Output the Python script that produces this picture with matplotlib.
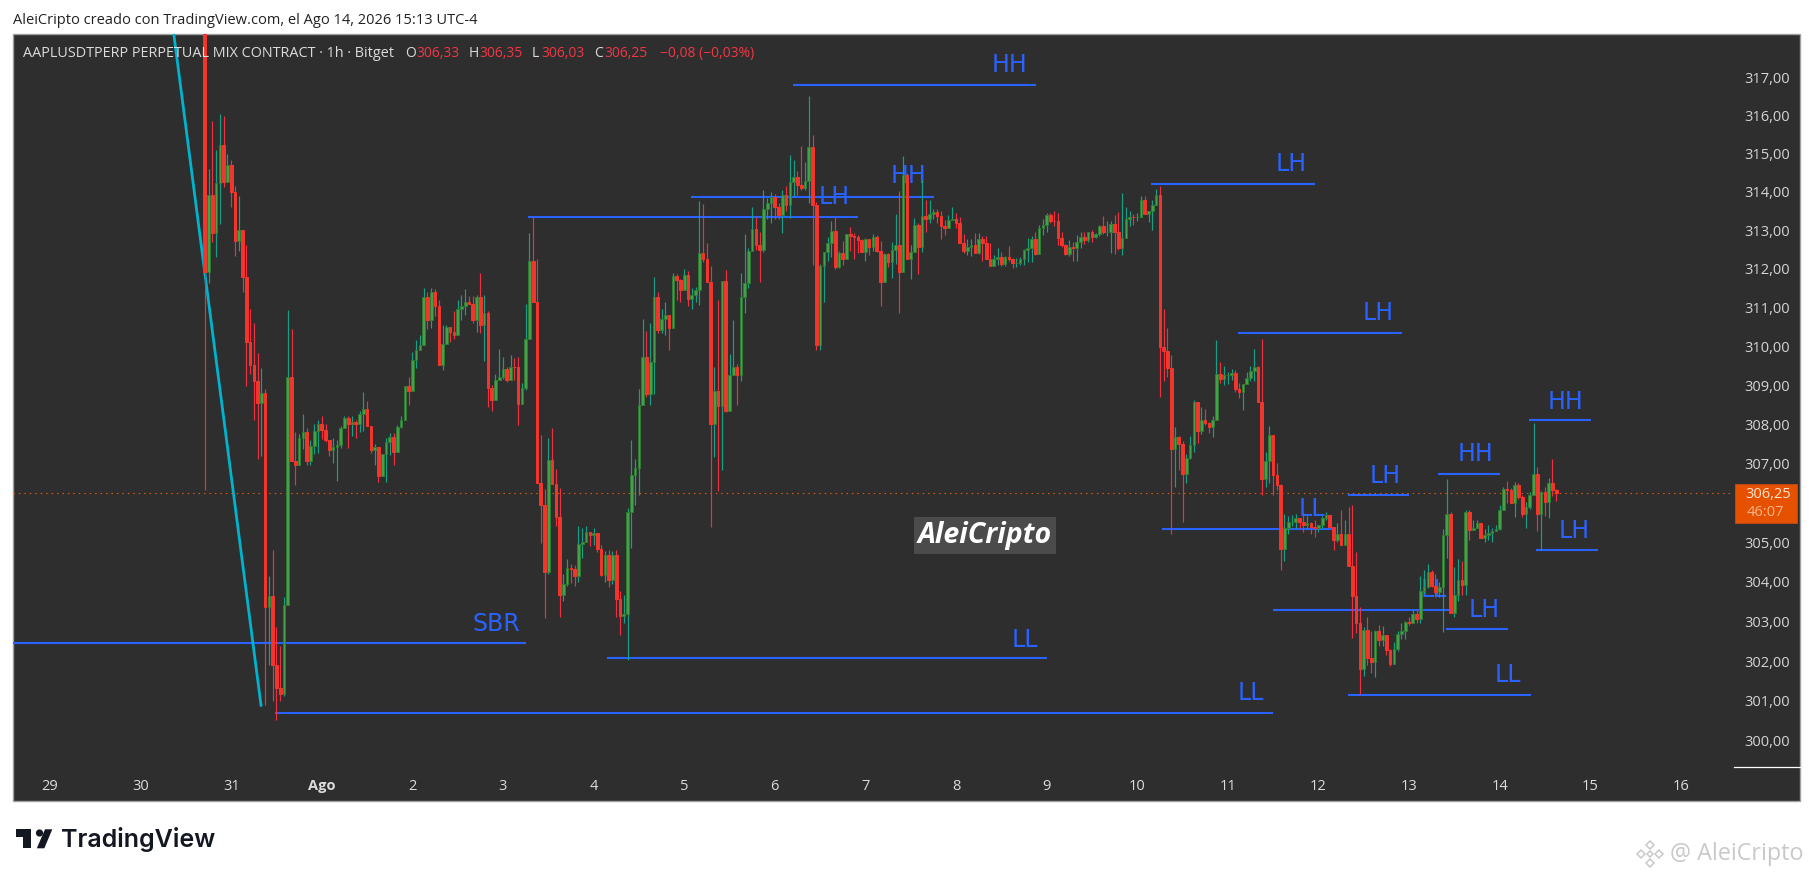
"""AAPLUSDT perpetual 1h candles with hand-drawn structure levels (TradingView look)."""

import matplotlib
matplotlib.use("Agg")
import matplotlib.pyplot as plt
import numpy as np
from matplotlib.patches import Circle, Polygon, Rectangle
from matplotlib.ticker import NullFormatter

W, H = 1814, 877
plt.rcParams["font.family"] = ["Open Sans", "DejaVu Sans"]

# x is hours since Jul 29 00:00, first candle is hour 41
FIRST_HOUR = 41
FIRST_OPEN = 322.0
closes = [
    311.93, 313.93, 312.93, 314.23, 315.23, 314.27, 314.7, 314.0, 312.72,
    313.0, 311.78, 310.12, 309.53, 309.12, 308.55, 308.8, 303.35, 303.63, 301.9,
    301.33, 301.18, 303.42, 309.2, 307.07, 306.95, 307.65, 307.8, 307.07, 307.45,
    307.83, 308.0, 307.85, 307.6, 307.35, 307.43, 307.47, 307.9, 308.15, 308.0,
    308.05, 308.0, 308.25, 308.38, 307.95, 307.33, 307.42, 306.68, 307.25, 307.55,
    307.67, 307.28, 307.93, 308.12, 308.97, 308.85, 309.65, 309.9, 310.03, 311.27,
    310.67, 311.4, 311.05, 309.53, 310.05, 310.5, 310.38, 310.28, 310.95, 311.05,
    311.15, 311.1, 310.67, 311.28, 310.55, 310.86, 308.92, 308.62, 309.14, 309.2,
    309.42, 309.14, 309.48, 309.46, 308.52, 308.93, 310.2, 312.2, 311.15, 306.5,
    305.93, 304.23, 307.08, 306.48, 305.63, 303.67, 303.95, 304.35, 304.32, 304.15,
    304.95, 305.0, 305.25, 305.17, 305.23, 304.83, 304.17, 304.66, 304.05, 304.66,
    303.55, 303.13, 303.18, 305.75, 306.7, 306.88, 308.5, 309.72, 308.78, 309.6,
    311.27, 310.43, 310.7, 310.8, 310.48, 311.82, 311.7, 311.45, 311.83, 311.23,
    311.33, 311.45, 312.4, 312.25, 311.65, 308.01, 308.85, 308.47, 311.68, 308.33,
    309.25, 309.48, 309.25, 311.27, 311.63, 312.47, 313.03, 312.63, 312.5, 313.55,
    313.7, 313.87, 313.6, 313.4, 313.93, 313.66, 314.27, 314.38, 314.17, 314.1,
    314.28, 315.17, 313.65, 310.03, 312.08, 312.45, 312.66, 312.98, 312.06, 312.4,
    312.25, 312.9, 312.85, 312.84, 312.75, 312.43, 312.77, 312.56, 312.83, 312.47,
    311.67, 312.39, 312.18, 312.5, 312.63, 311.93, 314.43, 312.25, 312.43, 313.13,
    312.56, 313.38, 313.3, 313.43, 313.47, 313.38, 313.12, 313.07, 313.27, 313.3,
    313.2, 312.68, 312.47, 312.58, 312.63, 312.42, 312.77, 312.66, 312.26, 312.07,
    312.25, 312.31, 312.13, 312.31, 312.25, 312.16, 312.16, 312.25, 312.5, 312.55,
    312.78, 312.38, 313.07, 313.15, 313.4, 313.25, 313.24, 312.81, 312.63, 312.38,
    312.58, 312.53, 312.7, 312.83, 312.76, 312.95, 312.84, 312.9, 313.12, 312.95,
    312.95, 313.16, 312.97, 312.55, 312.8, 313.3, 313.35, 313.34, 313.35, 313.78,
    313.42, 313.5, 313.66, 313.92, 309.97, 309.88, 309.43, 307.37, 307.68, 307.5,
    306.72, 307.14, 307.46, 308.57, 307.83, 308.12, 308.03, 307.92, 308.1, 309.29,
    309.17, 309.25, 309.27, 309.32, 308.9, 308.82, 309.02, 309.19, 309.36, 309.47,
    308.58, 306.6, 307.05, 307.72, 306.7, 306.46, 304.83, 305.36, 305.5, 305.52,
    305.6, 305.5, 305.44, 305.47, 305.38, 305.36, 305.42, 305.6, 305.68, 305.38,
    305.06, 305.2, 304.93, 305.2, 304.4, 303.63, 302.95, 301.8, 302.78, 302.07,
    301.97, 302.75, 302.53, 302.65, 302.27, 301.92, 302.3, 302.68, 302.76, 302.97,
    302.95, 303.17, 303.06, 303.75, 303.87, 304.25, 303.9, 303.73, 303.87, 305.18,
    305.7, 303.2, 303.67, 304.05, 303.92, 305.75, 305.3, 305.36, 305.48, 305.1,
    305.17, 305.22, 305.28, 305.32, 305.82, 306.35, 306.33, 306.0, 306.45, 306.15,
    305.7, 305.9, 306.2, 306.73, 305.72, 306.27, 306.02, 306.5, 306.33, 306.25,
]
highs = [
    322.0, 314.6, 315.85, 315.1, 316.05, 316.0, 315.0, 314.83, 314.15,
    313.9, 313.0, 312.62, 310.96, 310.6, 309.83, 309.43, 308.9, 304.13, 304.8,
    302.85, 302.38, 303.6, 310.93, 310.45, 307.8, 307.75, 308.27, 307.9, 307.6,
    308.0, 308.1, 308.2, 308.0, 307.6, 307.65, 307.6, 307.95, 308.2, 308.22,
    308.2, 308.1, 308.35, 308.83, 308.6, 307.95, 307.5, 307.42, 307.25, 307.65,
    307.78, 307.78, 307.98, 308.22, 308.97, 309.2, 309.85, 310.17, 310.3, 311.5,
    311.4, 311.5, 311.47, 311.2, 310.55, 310.55, 310.5, 310.9, 311.2, 311.33,
    311.47, 311.3, 311.3, 311.33, 311.9, 311.33, 310.9, 309.0, 309.3, 309.93,
    309.73, 309.47, 309.78, 309.7, 309.73, 309.05, 311.1, 312.93, 313.35, 312.25,
    307.73, 306.35, 307.65, 307.9, 306.85, 306.37, 304.18, 304.58, 304.45, 304.43,
    305.4, 305.35, 305.4, 305.25, 305.35, 305.23, 304.93, 304.77, 304.8, 304.77,
    304.8, 303.75, 303.65, 305.87, 307.6, 307.1, 308.9, 310.7, 310.4, 310.6,
    311.8, 311.4, 310.95, 311.15, 310.8, 311.9, 311.88, 311.75, 312.0, 311.95,
    311.5, 311.53, 313.77, 313.68, 312.67, 312.08, 309.47, 311.2, 311.68, 311.97,
    309.8, 310.68, 309.55, 311.9, 312.9, 312.55, 313.6, 313.35, 312.95, 314.05,
    313.85, 314.0, 313.95, 313.7, 314.05, 314.15, 314.97, 314.83, 314.55, 315.2,
    314.78, 316.52, 315.5, 313.75, 312.12, 312.45, 312.84, 313.25, 313.35, 312.47,
    312.72, 312.9, 313.08, 312.93, 312.87, 312.77, 312.8, 312.77, 312.9, 312.88,
    312.72, 312.4, 312.4, 312.7, 313.43, 314.03, 314.95, 314.5, 312.63, 313.32,
    313.2, 314.3, 313.8, 313.78, 313.55, 313.55, 313.5, 313.28, 313.4, 313.6,
    313.45, 313.35, 312.9, 312.78, 312.78, 312.93, 312.93, 312.85, 312.85, 312.66,
    312.35, 312.55, 312.43, 312.33, 312.6, 312.28, 312.28, 312.3, 312.52, 312.8,
    312.85, 312.97, 313.15, 313.3, 313.45, 313.45, 313.5, 313.46, 312.97, 312.65,
    312.75, 312.7, 312.88, 312.97, 312.97, 312.97, 313.0, 312.93, 313.15, 313.37,
    313.25, 313.25, 313.4, 313.47, 313.97, 313.6, 313.5, 313.42, 313.45, 313.9,
    313.9, 313.5, 313.8, 314.07, 314.15, 310.96, 310.47, 309.77, 307.93, 307.7,
    307.57, 307.25, 307.7, 308.62, 308.57, 308.43, 308.38, 308.05, 308.2, 310.15,
    309.6, 309.5, 309.35, 309.42, 309.38, 309.05, 309.02, 309.33, 309.5, 309.93,
    309.5, 310.2, 307.3, 307.95, 307.72, 307.0, 306.47, 305.72, 305.65, 305.68,
    305.7, 305.6, 305.73, 305.65, 305.5, 305.55, 305.43, 305.65, 305.75, 305.68,
    305.1, 305.48, 305.8, 305.55, 305.9, 305.95, 304.75, 303.35, 302.85, 303.1,
    302.75, 302.78, 302.9, 302.88, 302.65, 302.3, 302.47, 302.75, 302.96, 303.0,
    303.1, 303.3, 303.3, 304.15, 304.3, 304.45, 304.3, 304.2, 304.0, 305.32,
    306.6, 305.75, 304.37, 304.57, 304.52, 305.8, 305.8, 305.55, 305.55, 305.48,
    305.32, 305.42, 305.35, 305.42, 305.95, 306.4, 306.55, 306.38, 306.52, 306.5,
    306.2, 306.02, 306.28, 308.03, 306.9, 306.3, 306.4, 306.62, 307.1, 306.35,
]
lows = [
    306.33, 311.63, 312.7, 312.3, 313.17, 314.13, 314.27, 313.6, 312.33,
    312.47, 311.4, 308.97, 309.3, 308.1, 307.1, 307.2, 300.9, 301.9, 301.0,
    300.53, 301.0, 301.13, 303.42, 307.07, 306.45, 306.95, 307.37, 306.95, 306.95,
    307.25, 307.27, 307.63, 307.55, 307.2, 307.0, 306.55, 307.4, 307.9, 307.4,
    307.7, 307.65, 307.8, 307.83, 307.95, 307.27, 306.95, 306.52, 306.68, 306.52,
    307.22, 306.97, 307.28, 307.9, 308.1, 308.5, 308.85, 309.45, 309.9, 310.03,
    310.45, 310.48, 310.77, 309.53, 309.4, 310.05, 310.12, 310.2, 310.28, 310.67,
    310.8, 311.1, 310.6, 310.37, 310.33, 309.62, 308.45, 308.33, 308.62, 309.14,
    309.15, 309.07, 309.14, 309.14, 307.98, 308.52, 308.88, 310.2, 311.15, 306.5,
    304.98, 303.08, 304.2, 306.48, 305.4, 303.1, 303.5, 303.9, 303.97, 303.9,
    304.0, 304.6, 305.0, 304.9, 304.93, 304.75, 304.15, 304.0, 303.85, 303.93,
    303.1, 302.65, 302.95, 302.03, 304.85, 305.93, 306.2, 308.5, 308.7, 308.5,
    308.77, 310.35, 310.35, 310.3, 309.9, 310.48, 311.2, 311.13, 311.45, 311.05,
    310.97, 311.13, 311.07, 312.17, 311.65, 305.37, 307.15, 306.3, 306.82, 308.3,
    308.33, 309.25, 308.5, 309.1, 310.87, 311.5, 312.47, 312.5, 311.65, 312.45,
    313.3, 313.2, 313.3, 313.3, 312.93, 313.5, 313.33, 313.9, 313.93, 314.05,
    314.05, 313.72, 312.1, 309.9, 309.9, 311.13, 312.2, 312.3, 312.0, 312.03,
    312.1, 312.25, 312.47, 312.25, 312.4, 312.43, 312.2, 312.35, 312.47, 312.43,
    311.03, 311.65, 312.05, 311.77, 312.13, 310.85, 311.93, 312.25, 311.75, 312.43,
    311.88, 312.43, 312.97, 313.2, 313.3, 313.2, 312.78, 312.88, 313.07, 313.28,
    313.05, 312.68, 312.4, 312.35, 312.33, 312.42, 312.38, 312.2, 312.26, 312.07,
    312.07, 312.1, 312.07, 312.07, 312.2, 312.03, 312.06, 312.1, 312.1, 312.17,
    312.17, 312.35, 312.38, 312.88, 312.97, 313.18, 313.12, 312.63, 312.58, 312.35,
    312.33, 312.2, 312.2, 312.55, 312.65, 312.7, 312.7, 312.8, 312.85, 312.9,
    312.85, 312.42, 312.38, 312.48, 312.35, 312.8, 313.12, 313.13, 313.25, 313.35,
    313.42, 313.22, 313.0, 313.66, 308.7, 309.12, 309.2, 305.2, 306.4, 306.82,
    305.5, 306.5, 307.1, 307.3, 307.52, 307.75, 307.98, 307.78, 307.68, 308.1,
    309.05, 309.0, 309.03, 309.13, 308.82, 308.67, 308.37, 309.02, 309.1, 309.1,
    308.58, 306.2, 306.4, 306.5, 306.2, 306.33, 304.3, 304.53, 305.2, 305.4,
    305.35, 305.35, 305.25, 305.33, 305.2, 305.12, 305.25, 305.35, 305.55, 305.38,
    304.8, 305.0, 304.93, 304.93, 304.4, 302.57, 302.7, 301.17, 301.62, 301.9,
    301.7, 301.6, 302.38, 302.38, 302.15, 301.88, 301.92, 302.25, 302.55, 302.55,
    302.9, 302.95, 302.95, 302.95, 303.7, 303.83, 303.85, 303.6, 303.6, 302.72,
    304.6, 303.2, 303.1, 303.5, 303.65, 303.65, 305.06, 305.3, 305.35, 305.1,
    305.0, 305.05, 305.0, 305.28, 305.3, 305.8, 306.0, 305.98, 305.63, 306.1,
    305.63, 305.35, 305.85, 306.2, 305.28, 304.8, 305.67, 305.6, 306.17, 306.03,
]

# horizontal levels: start hour, end hour, price
level_starts = [196.7, 169.7, 126.5, 291.7, 314.7, 294.6, 343.8, 367.7, 391.8,
                393.7, 369.7, 343.8, 323.9, -9.72, 147.6, 59.7]
level_ends = [261.1, 234.2, 214.0, 335.1, 358.1, 339.5, 360.1, 384.2, 408.2,
              410.1, 386.1, 392.2, 371.7, 126.0, 264.1, 323.9]
level_prices = [316.79, 313.88, 313.36, 314.21, 310.35, 305.34, 306.19, 306.72, 308.1,
                304.79, 302.8, 301.15, 303.28, 302.44, 302.07, 300.69]

label_texts = ["HH", "LH", "HH", "LH", "LH", "LL", "LH", "HH", "HH",
               "LH", "LH", "LL", "LL", "SBR", "LL", "LL"]
label_hours = [254.3, 207.8, 227.4, 328.7, 351.8, 334.4, 353.6, 377.5, 401.5,
               403.8, 379.9, 386.3, 366.6, 118.3, 258.3, 318.1]
label_prices = [317.32, 313.88, 314.41, 314.73, 310.86, 305.83, 306.68, 307.23, 308.56,
                305.28, 303.28, 301.64, 303.78, 302.93, 302.54, 301.21]

trend_hours = [32.8, 55.9]
trend_prices = [318.14, 300.89]
last_price = 306.25

# the 306,00 label sits under the last-price tag, so it is not listed
price_ticks = [300, 301, 302, 303, 304, 305, 307, 308, 309, 310, 311, 312, 313, 314, 315, 316, 317]
price_labels = [f"{p},00" for p in price_ticks]
day_labels = ["29", "30", "31", "Ago", "2", "3", "4", "5", "6", "7", "8", "9", "10",
              "11", "12", "13", "14", "15", "16"]

UP_BODY, UP_EDGE, UP_WICK = "#45a049", "#2e7d32", "#17a085"
DOWN_BODY, DOWN_WICK = "#f5352b", "#ee3040"
BLUE = "#2962ff"
PANEL = "#2e2e2e"
TEXT = "#dcdcdc"


def pane_rect(x0, y0, x1, y1):
    return [x0 / W, 1 - y1 / H, (x1 - x0) / W, (y1 - y0) / H]


fig = plt.figure(figsize=(W / 100, H / 100), dpi=100, facecolor="white")

# pixel-space layers for the frame and the overlay decorations
back = fig.add_axes([0, 0, 1, 1], zorder=0)
back.set_xlim(0, W)
back.set_ylim(H, 0)
back.axis("off")
back.add_patch(Rectangle((13.3, 34.3), 1786.7, 766.7, fc=PANEL, ec="#a0a0a0", lw=1.0))
back.plot([1734, 1800], [766.7, 766.7], color="white", lw=0.9)

ax = fig.add_axes(pane_rect(13.3, 34.3, 1734, 766.7), zorder=1)
ax.patch.set_alpha(0)
ax.set_yscale("log")
for s in ax.spines.values():
    s.set_visible(False)

hours = np.arange(FIRST_HOUR, FIRST_HOUR + len(closes))
c = np.array(closes)
o = np.array([FIRST_OPEN] + closes[:-1])
hi = np.array(highs)
lo = np.array(lows)
up = c >= o

ax.hlines(level_prices, level_starts, level_ends, color=BLUE, lw=1.5, zorder=2)
for txt, hx, py in zip(label_texts, label_hours, label_prices):
    ax.text(hx, py, txt, color=BLUE, fontsize=17, family="DejaVu Sans",
            ha="center", va="center", zorder=2)
ax.plot(trend_hours, trend_prices, color="#00b4cf", lw=2.0, zorder=2.5)
ax.axhline(last_price, color="#e8590c", lw=0.8, ls=(0, (1.3, 3.6)), zorder=2.5)

ax.vlines(hours[up], lo[up], hi[up], color=UP_WICK, lw=0.85, zorder=3)
ax.vlines(hours[~up], lo[~up], hi[~up], color=DOWN_WICK, lw=0.85, zorder=3)
ax.bar(hours[up], (c - o)[up], bottom=o[up], width=0.7, color=UP_BODY,
       edgecolor=UP_EDGE, lw=0.7, zorder=4)
ax.bar(hours[~up], (o - c)[~up], bottom=c[~up], width=0.7, color=DOWN_BODY,
       edgecolor=DOWN_BODY, lw=0.7, zorder=4)

ax.set_xlim(-9.72, 446.09)
ax.set_ylim(299.36, 318.14)
ax.set_yticks(price_ticks, price_labels)
ax.yaxis.set_minor_formatter(NullFormatter())
ax.tick_params(axis="y", which="both", left=False, right=False, labelleft=False,
               labelright=True, pad=3.7, labelsize=10.5, labelcolor="#d4d4d4")
ax.set_xticks(np.arange(len(day_labels)) * 24, day_labels)
ax.tick_params(axis="x", length=0, pad=8.5, labelsize=10.5, labelcolor=TEXT)
ax.get_xticklabels()[3].set_fontweight("bold")

over = fig.add_axes([0, 0, 1, 1], zorder=2)
over.set_xlim(0, W)
over.set_ylim(H, 0)
over.axis("off")
over.patch.set_alpha(0)

over.text(13, 20, "AleiCripto creado con TradingView.com, el Ago 14, 2026 15:13 UTC-4",
          fontsize=10.55, color="#222222", va="center")

legend_y = 53.3
over.text(23, legend_y, "AAPLUSDTPERP PERPETUAL MIX CONTRACT · 1h · Bitget",
          fontsize=10.4, color=TEXT, va="center")
for x, txt, col in [(405, "O", TEXT), (416, "306,33", "#f23645"),
                    (469, "H", TEXT), (479, "306,35", "#f23645"),
                    (532, "L", TEXT), (541, "306,03", "#f23645"),
                    (594, "C", TEXT), (604, "306,25", "#f23645"),
                    (660, "−0,08 (−0,03%)", "#f23645")]:
    over.text(x, legend_y, txt, fontsize=10, color=col, va="center")

# last price tag on the axis
over.add_patch(Rectangle((1735.3, 484.3), 62, 38.4, fc="#e65100", ec="#c9481a", lw=0.6))
over.text(1768, 494.5, "306,25", fontsize=10.5, color="#fbe3d2", ha="center", va="center")
over.text(1765, 512, "46:07", fontsize=10.5, color="#f9b48c", ha="center", va="center")

# centre watermark
over.add_patch(Rectangle((914, 516.7), 141.7, 37, fc="#4b4b4b", ec="none"))
over.text(985, 535, "AleiCripto", fontsize=20.5, color="white", style="italic",
          weight="bold", ha="center", va="center")

# TradingView logo and word mark
dark = "#131722"
over.add_patch(Polygon([(15.7, 829.3), (31, 829.3), (31, 848.3), (23, 848.3),
                        (23, 836.5), (15.7, 836.5)], fc=dark, ec="none"))
over.add_patch(Circle((39.5, 833), 3.6, fc=dark, ec="none"))
over.add_patch(Polygon([(45, 829.3), (52.3, 829.3), (44.3, 848.3), (36.8, 848.3)],
                       fc=dark, ec="none"))
over.text(61, 839, "TradingView", fontsize=18, family="Inter", weight="semibold",
          color=dark, va="center")

# bottom-right account watermark
wm = "#c9c9c9"
for cx, cy, r in [(1650, 845, 4), (1641, 854, 4), (1659, 854, 4),
                  (1650, 863, 4), (1650, 854, 3)]:
    over.add_patch(Polygon([(cx, cy - r), (cx + r, cy), (cx, cy + r), (cx - r, cy)],
                           fc="none", ec=wm, lw=1.1))
over.text(1670, 854, "@ AleiCripto", fontsize=16.8, color=wm, va="center")

fig.savefig("out.png", dpi=100, facecolor="white")
